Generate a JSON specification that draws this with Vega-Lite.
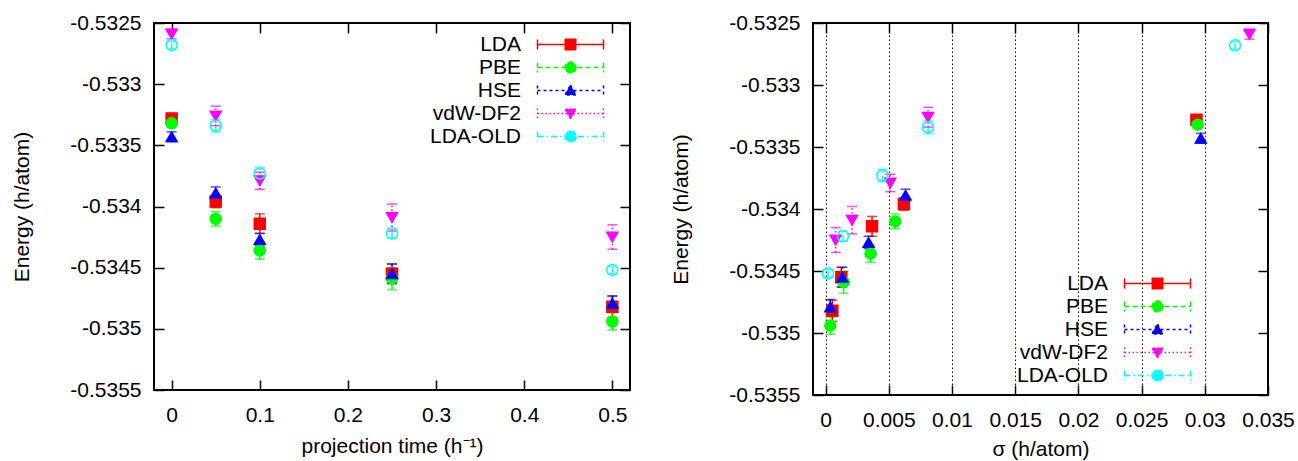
{
  "$schema": "https://vega.github.io/schema/vega-lite/v6.json",
  "padding": {"left": 10, "top": 11, "right": 5, "bottom": 0},
  "spacing": 37,
  "background": "white",
  "config": {
    "font": "Liberation Sans",
    "view": {"stroke": "black", "strokeWidth": 2},
    "axis": {
      "domain": false,
      "grid": false,
      "ticks": true,
      "tickSize": -10,
      "tickColor": "black",
      "tickWidth": 1.5,
      "labelFont": "Liberation Sans",
      "labelFontSize": 21,
      "labelColor": "black",
      "labelOverlap": false,
      "labelFlush": false,
      "titleFont": "Liberation Sans",
      "titleFontSize": 21,
      "titleFontWeight": "normal",
      "titleColor": "black"
    }
  },
  "datasets": {
    "d": [
      {"m": "LDA", "t": 0, "s": 0.02934, "E": -0.53328, "err": 0.00002},
      {"m": "LDA", "t": 0.05, "s": 0.00619, "E": -0.53396, "err": 0.00005},
      {"m": "LDA", "t": 0.1, "s": 0.00367, "E": -0.53414, "err": 0.00008},
      {"m": "LDA", "t": 0.25, "s": 0.00124, "E": -0.53455, "err": 0.00008},
      {"m": "LDA", "t": 0.5, "s": 0.00053, "E": -0.53482, "err": 0.000085},
      {"m": "PBE", "t": 0, "s": 0.02944, "E": -0.53332, "err": 0.00002},
      {"m": "PBE", "t": 0.05, "s": 0.0055, "E": -0.5341, "err": 0.00006},
      {"m": "PBE", "t": 0.1, "s": 0.00355, "E": -0.53436, "err": 0.00007},
      {"m": "PBE", "t": 0.25, "s": 0.00142, "E": -0.53459, "err": 0.00009},
      {"m": "PBE", "t": 0.5, "s": 0.00037, "E": -0.53494, "err": 0.00007},
      {"m": "HSE", "t": 0, "s": 0.02968, "E": -0.53343, "err": 0.00004},
      {"m": "HSE", "t": 0.05, "s": 0.00632, "E": -0.53389, "err": 0.00005},
      {"m": "HSE", "t": 0.1, "s": 0.0034, "E": -0.53427, "err": 0.00005},
      {"m": "HSE", "t": 0.25, "s": 0.00132, "E": -0.53455, "err": 0.00008},
      {"m": "HSE", "t": 0.5, "s": 0.00037, "E": -0.53479, "err": 0.00006},
      {"m": "vdW-DF2", "t": 0, "s": 0.03353, "E": -0.53259, "err": 0.00004},
      {"m": "vdW-DF2", "t": 0.05, "s": 0.0081, "E": -0.53326, "err": 0.00008},
      {"m": "vdW-DF2", "t": 0.1, "s": 0.00511, "E": -0.53379, "err": 0.00007},
      {"m": "vdW-DF2", "t": 0.25, "s": 0.00209, "E": -0.53409, "err": 0.00011},
      {"m": "vdW-DF2", "t": 0.5, "s": 0.00079, "E": -0.53425, "err": 0.0001},
      {"m": "LDA-OLD", "t": 0, "s": 0.03239, "E": -0.53268, "err": 0.00003},
      {"m": "LDA-OLD", "t": 0.05, "s": 0.0081, "E": -0.53334, "err": 0.00005},
      {"m": "LDA-OLD", "t": 0.1, "s": 0.00448, "E": -0.53373, "err": 0.00005},
      {"m": "LDA-OLD", "t": 0.25, "s": 0.00137, "E": -0.53422, "err": 0.00004},
      {"m": "LDA-OLD", "t": 0.5, "s": 0.00019, "E": -0.53452, "err": 0.00003}
    ]
  },
  "resolve": {
    "scale": {"color": "independent", "fill": "independent", "shape": "independent", "strokeDash": "independent"},
    "legend": {"color": "independent", "fill": "independent", "shape": "independent", "strokeDash": "independent"}
  },
  "hconcat": [
    {
      "width": 476,
      "height": 367,
      "data": {"name": "d"},
      "resolve": {"axis": {"x": "independent", "y": "independent"}},
      "encoding": {
        "color": {"field": "m", "type": "nominal",
          "scale": {"domain": ["LDA", "PBE", "HSE", "vdW-DF2", "LDA-OLD"], "range": ["#ff0000", "#00ff00", "#0000ff", "#ff00ff", "#00ffff"]},
          "legend": {
            "orient": "none", "legendX": 406, "legendY": 11, "title": null, "padding": 0,
            "symbolSize": 100, "labelAlign": "right", "labelOffset": -60, "rowPadding": 1,
            "labelFont": "Liberation Sans", "labelFontSize": 21, "labelColor": "black", "labelLimit": 0,
            "encode": {"symbols": {"update": {
              "shape": {"signal": "(datum.value==='LDA' ? 'M-1.05,-1.05H1.05V1.05H-1.05Z' : datum.value==='PBE' ? 'M1.1,0A1.1,1.1,0,1,1,-1.1,0A1.1,1.1,0,1,1,1.1,0Z' : datum.value==='HSE' ? 'M0,-1.1L1.15,0.9L-1.15,0.9Z' : datum.value==='vdW-DF2' ? 'M0,1.1L1.15,-0.9L-1.15,-0.9Z' : 'M1.1,0A1.1,1.1,0,1,1,-1.1,0A1.1,1.1,0,1,1,1.1,0Z') + 'M-6.6,0H6.6M-6.6,-1V1M6.6,-1V1'"},
              "stroke": {"signal": "datum.value==='LDA' ? '#ff0000' : datum.value==='PBE' ? '#00ff00' : datum.value==='HSE' ? '#0000ff' : datum.value==='vdW-DF2' ? '#ff00ff' : '#00ffff'"},
              "fill": {"signal": "datum.value==='LDA' ? '#ff0000' : datum.value==='PBE' ? '#00ff00' : datum.value==='HSE' ? '#0000ff' : datum.value==='vdW-DF2' ? '#ff00ff' : 'transparent'"},
              "strokeDash": {"signal": "datum.value==='LDA' ? [1,0] : datum.value==='PBE' ? [5,3] : datum.value==='HSE' ? [3,3] : datum.value==='vdW-DF2' ? [1.5,2.5] : [6,3,1.5,3]"},
              "strokeWidth": {"value": 1.5},
              "opacity": {"value": 1}
            }}}
          }}
      },
      "layer": [
        {
          "mark": {"type": "errorbar", "ticks": {"size": 10}, "thickness": 1.5},
          "encoding": {
            "x": {"field": "t", "type": "quantitative",
              "scale": {"domain": [-0.02, 0.52], "nice": false, "zero": false},
              "axis": {"orient": "bottom", "values": [0, 0.1, 0.2, 0.3, 0.4, 0.5], "format": "~g", "labelPadding": 24, "title": "projection time (h⁻¹)", "titlePadding": 10}},
            "y": {"field": "E", "type": "quantitative",
              "scale": {"domain": [-0.5355, -0.5325], "nice": false, "zero": false},
              "axis": {"orient": "left", "values": [-0.5355, -0.535, -0.5345, -0.534, -0.5335, -0.533, -0.5325], "format": "~g", "labelExpr": "replace(datum.label, '−', '-')", "labelPadding": 23, "title": "Energy (h/atom)", "titlePadding": 37}},
            "yError": {"field": "err"},
            "strokeDash": {"field": "m", "type": "nominal", "legend": null,
              "scale": {"domain": ["vdW-DF2", "LDA", "PBE", "HSE", "LDA-OLD"], "range": [[1.5, 2.5], [1, 0], [5, 3], [3, 3], [6, 3, 1.5, 3]]}}
          }
        },
        {
          "mark": {"type": "point", "filled": false, "strokeWidth": 1.5, "size": 121, "opacity": 1},
          "encoding": {
            "x": {"field": "t", "type": "quantitative",
              "axis": {"orient": "top", "values": [0, 0.1, 0.2, 0.3, 0.4, 0.5], "labels": false, "title": null}},
            "y": {"field": "E", "type": "quantitative",
              "axis": {"orient": "right", "values": [-0.5355, -0.535, -0.5345, -0.534, -0.5335, -0.533, -0.5325], "labels": false, "title": null}},
            "fill": {"field": "m", "type": "nominal", "legend": null,
              "scale": {"domain": ["PBE", "LDA", "HSE", "vdW-DF2", "LDA-OLD"], "range": ["#00ff00", "#ff0000", "#0000ff", "#ff00ff", "transparent"]}},
            "shape": {"field": "m", "type": "nominal", "legend": null,
              "scale": {"domain": ["HSE", "LDA", "PBE", "vdW-DF2", "LDA-OLD"], "range": ["triangle-up", "square", "circle", "triangle-down", "circle"]}}
          }
        }
      ]
    },
    {
      "width": 455,
      "height": 372,
      "data": {"name": "d"},
      "resolve": {"axis": {"x": "independent", "y": "independent"}},
      "encoding": {
        "color": {"field": "m", "type": "nominal",
          "scale": {"domain": ["LDA", "PBE", "HSE", "vdW-DF2", "LDA-OLD"], "range": ["#ff0000", "#00ff00", "#0000ff", "#ff00ff", "#00ffff"]},
          "legend": {
            "orient": "none", "legendX": 334, "legendY": 250, "title": null, "padding": 0,
            "symbolSize": 100, "labelAlign": "right", "labelOffset": -60, "rowPadding": 1,
            "labelFont": "Liberation Sans", "labelFontSize": 21, "labelColor": "black", "labelLimit": 0,
            "encode": {"symbols": {"update": {
              "shape": {"signal": "(datum.value==='LDA' ? 'M-1.05,-1.05H1.05V1.05H-1.05Z' : datum.value==='PBE' ? 'M1.1,0A1.1,1.1,0,1,1,-1.1,0A1.1,1.1,0,1,1,1.1,0Z' : datum.value==='HSE' ? 'M0,-1.1L1.15,0.9L-1.15,0.9Z' : datum.value==='vdW-DF2' ? 'M0,1.1L1.15,-0.9L-1.15,-0.9Z' : 'M1.1,0A1.1,1.1,0,1,1,-1.1,0A1.1,1.1,0,1,1,1.1,0Z') + 'M-6.6,0H6.6M-6.6,-1V1M6.6,-1V1'"},
              "stroke": {"signal": "datum.value==='LDA' ? '#ff0000' : datum.value==='PBE' ? '#00ff00' : datum.value==='HSE' ? '#0000ff' : datum.value==='vdW-DF2' ? '#ff00ff' : '#00ffff'"},
              "fill": {"signal": "datum.value==='LDA' ? '#ff0000' : datum.value==='PBE' ? '#00ff00' : datum.value==='HSE' ? '#0000ff' : datum.value==='vdW-DF2' ? '#ff00ff' : 'transparent'"},
              "strokeDash": {"signal": "datum.value==='LDA' ? [1,0] : datum.value==='PBE' ? [5,3] : datum.value==='HSE' ? [3,3] : datum.value==='vdW-DF2' ? [1.5,2.5] : [6,3,1.5,3]"},
              "strokeWidth": {"value": 1.5},
              "opacity": {"value": 1}
            }}}
          }}
      },
      "layer": [
        {
          "mark": {"type": "errorbar", "ticks": {"size": 10}, "thickness": 1.5},
          "encoding": {
            "x": {"field": "s", "type": "quantitative",
              "scale": {"domain": [-0.001, 0.035], "nice": false, "zero": false},
              "axis": {"orient": "bottom", "values": [0, 0.005, 0.01, 0.015, 0.02, 0.025, 0.03, 0.035], "format": "~g", "labelPadding": 24, "title": "σ (h/atom)", "titlePadding": 8,
                "grid": true, "gridColor": "black", "gridDash": [1.5, 2.5], "gridWidth": 1}},
            "y": {"field": "E", "type": "quantitative",
              "scale": {"domain": [-0.5355, -0.5325], "nice": false, "zero": false},
              "axis": {"orient": "left", "values": [-0.5355, -0.535, -0.5345, -0.534, -0.5335, -0.533, -0.5325], "format": "~g", "labelExpr": "replace(datum.label, '−', '-')", "labelPadding": 23, "title": "Energy (h/atom)", "titlePadding": 37}},
            "yError": {"field": "err"},
            "strokeDash": {"field": "m", "type": "nominal", "legend": null,
              "scale": {"domain": ["vdW-DF2", "LDA", "PBE", "HSE", "LDA-OLD"], "range": [[1.5, 2.5], [1, 0], [5, 3], [3, 3], [6, 3, 1.5, 3]]}}
          }
        },
        {
          "mark": {"type": "point", "filled": false, "strokeWidth": 1.5, "size": 121, "opacity": 1},
          "encoding": {
            "x": {"field": "s", "type": "quantitative",
              "axis": {"orient": "top", "values": [0, 0.005, 0.01, 0.015, 0.02, 0.025, 0.03, 0.035], "labels": false, "title": null}},
            "y": {"field": "E", "type": "quantitative",
              "axis": {"orient": "right", "values": [-0.5355, -0.535, -0.5345, -0.534, -0.5335, -0.533, -0.5325], "labels": false, "title": null}},
            "fill": {"field": "m", "type": "nominal", "legend": null,
              "scale": {"domain": ["PBE", "LDA", "HSE", "vdW-DF2", "LDA-OLD"], "range": ["#00ff00", "#ff0000", "#0000ff", "#ff00ff", "transparent"]}},
            "shape": {"field": "m", "type": "nominal", "legend": null,
              "scale": {"domain": ["HSE", "LDA", "PBE", "vdW-DF2", "LDA-OLD"], "range": ["triangle-up", "square", "circle", "triangle-down", "circle"]}}
          }
        }
      ]
    }
  ]
}
